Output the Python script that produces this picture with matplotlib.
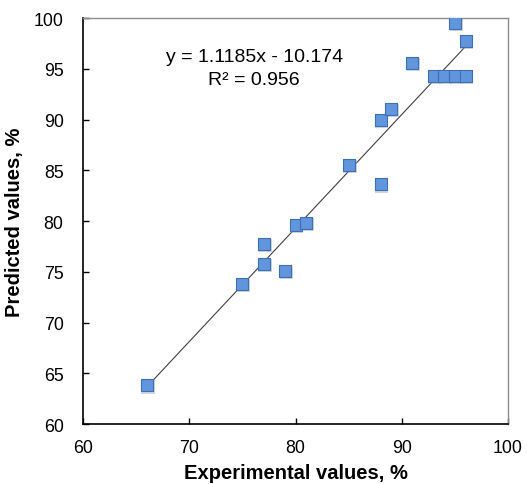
import matplotlib
matplotlib.use("Agg")
import matplotlib.pyplot as plt
import numpy as np

plt.rcParams['font.family'] = ['Liberation Sans', 'DejaVu Sans']

experimental = [66, 75, 77, 77, 79, 80, 81, 85, 88, 88, 89, 91, 93, 94, 95, 96, 95, 96]
predicted = [63.8, 73.8, 75.8, 77.7, 75.1, 79.6, 79.8, 85.5, 83.6, 90.0, 91.0, 95.6, 94.3, 94.3, 94.3, 94.3, 99.5, 97.7]
slope, intercept = 1.1185, -10.174
equation_text = "y = 1.1185x - 10.174\nR² = 0.956"
x_ticks = [60, 70, 80, 90, 100]
y_ticks = [60, 65, 70, 75, 80, 85, 90, 95, 100]

fig = plt.figure(figsize=(5.27, 4.85), dpi=100)
ax = fig.add_axes([0.1575, 0.1237, 0.8065, 0.8371])

xs = np.array([min(experimental), max(experimental)])
ax.plot(xs, slope * xs + intercept, color='#404040', lw=0.8, zorder=2)

# shadow
ax.scatter(np.array(experimental) + 0.12, np.array(predicted) - 0.15, marker='s', s=90,
           color='#9aa4b3', alpha=0.45, edgecolors='none', zorder=2.5)
ax.scatter(experimental, predicted, marker='s', s=82, color='#6196dc',
           edgecolors='#3d6fb5', linewidths=0.8, zorder=3)

ax.text(76.1, 95.1, equation_text, ha='center', va='center', fontsize=14, linespacing=1.45)

ax.set_xlim(60, 100)
ax.set_ylim(60, 100)
ax.set_xticks(x_ticks)
ax.set_yticks(y_ticks)
ax.tick_params(direction='in', length=4, width=1, labelsize=12.8, colors='black')
ax.tick_params(axis='x', pad=11)
ax.tick_params(axis='y', pad=14)
for s in ['left', 'bottom']:
    ax.spines[s].set_color('black')
    ax.spines[s].set_linewidth(1.2)
for s in ['top', 'right']:
    ax.spines[s].set_color('#8c8c8c')
    ax.spines[s].set_linewidth(1.0)

ax.set_xlabel('Experimental values, %', fontsize=14.5, fontweight='bold', labelpad=5)
ax.set_ylabel('Predicted values, %', fontsize=14.5, fontweight='bold', labelpad=7)

fig.savefig('out.png', dpi=100)
